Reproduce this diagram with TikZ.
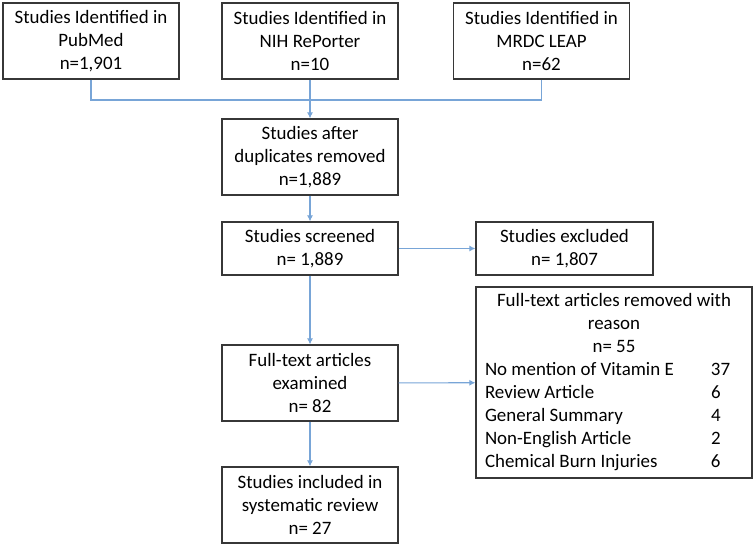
\documentclass[tikz,border=0pt]{standalone}
\usepackage{fontspec}
\setmainfont{Carlito}
\usepackage{array}
\definecolor{linkblue}{RGB}{120,165,215}
\definecolor{boxgray}{RGB}{55,55,55}
\begin{document}
\begin{tikzpicture}[x=0.75pt, y=-0.75pt,
    box/.style={draw=boxgray, line width=0.9pt, align=center, inner sep=2pt,
      font=\fontsize{14.2}{17.3}\selectfont, minimum width=132pt},
    tall/.style={box, minimum height=57pt},
    short/.style={box, minimum height=39.75pt},
    link/.style={draw=linkblue, line width=0.8pt},
    arrow/.style={link, -{Latex[length=4.5pt, width=4.5pt]}}]
  \usetikzlibrary{arrows.meta}
  % Canvas
  \useasboundingbox (0,0) rectangle (755,547);

  % Sources
  \node[tall] (pubmed) at (91,41) {Studies Identified in\\PubMed\\n=1,901};
  \node[tall] (nih) at (310,41) {Studies Identified in\\NIH RePorter\\n=10};
  \node[tall] (mrdc) at (541.5,41) {Studies Identified in\\MRDC LEAP\\n=62};

  % Main flow
  \node[tall] (dup) at (310,157) {Studies after\\duplicates removed\\n=1,889};
  \node[short] (screen) at (310,248.5) {Studies screened\\n= 1,889};
  \node[tall] (full) at (310,383) {Full-text articles\\examined\\n= 82};
  \node[tall] (incl) at (310,505) {Studies included in\\systematic review\\n= 27};

  % Exclusions
  \node[short, minimum width=132.75pt] (excl) at (564.5,248.5) {Studies excluded\\n= 1,807};
  \node[box, minimum width=207pt, minimum height=143.25pt, inner sep=0pt] (removed) at (614,382.5) {%
    \begin{tabular}{@{}p{169.5pt}@{}p{24pt}@{}}
      \multicolumn{2}{@{}c@{}}{Full-text articles removed with}\\
      \multicolumn{2}{@{}c@{}}{reason}\\
      \multicolumn{2}{@{}c@{}}{n= 55}\\
      No mention of Vitamin E & 37\\
      Review Article & 6\\
      General Summary & 4\\
      Non-English Article & 2\\
      Chemical Burn Injuries & 6
    \end{tabular}};

  % Connectors
  \coordinate (join) at (310,100);
  \draw[link] (pubmed.south) |- (join) -| (mrdc.south);
  \draw[arrow] (nih.south) -- (dup.north);
  \draw[arrow] (dup) -- (screen);
  \draw[arrow] (screen) -- (full);
  \draw[arrow] (full) -- (incl);
  \draw[arrow] (screen) -- (excl);
  \draw[arrow] (full) -- (removed);
\end{tikzpicture}
\end{document}
